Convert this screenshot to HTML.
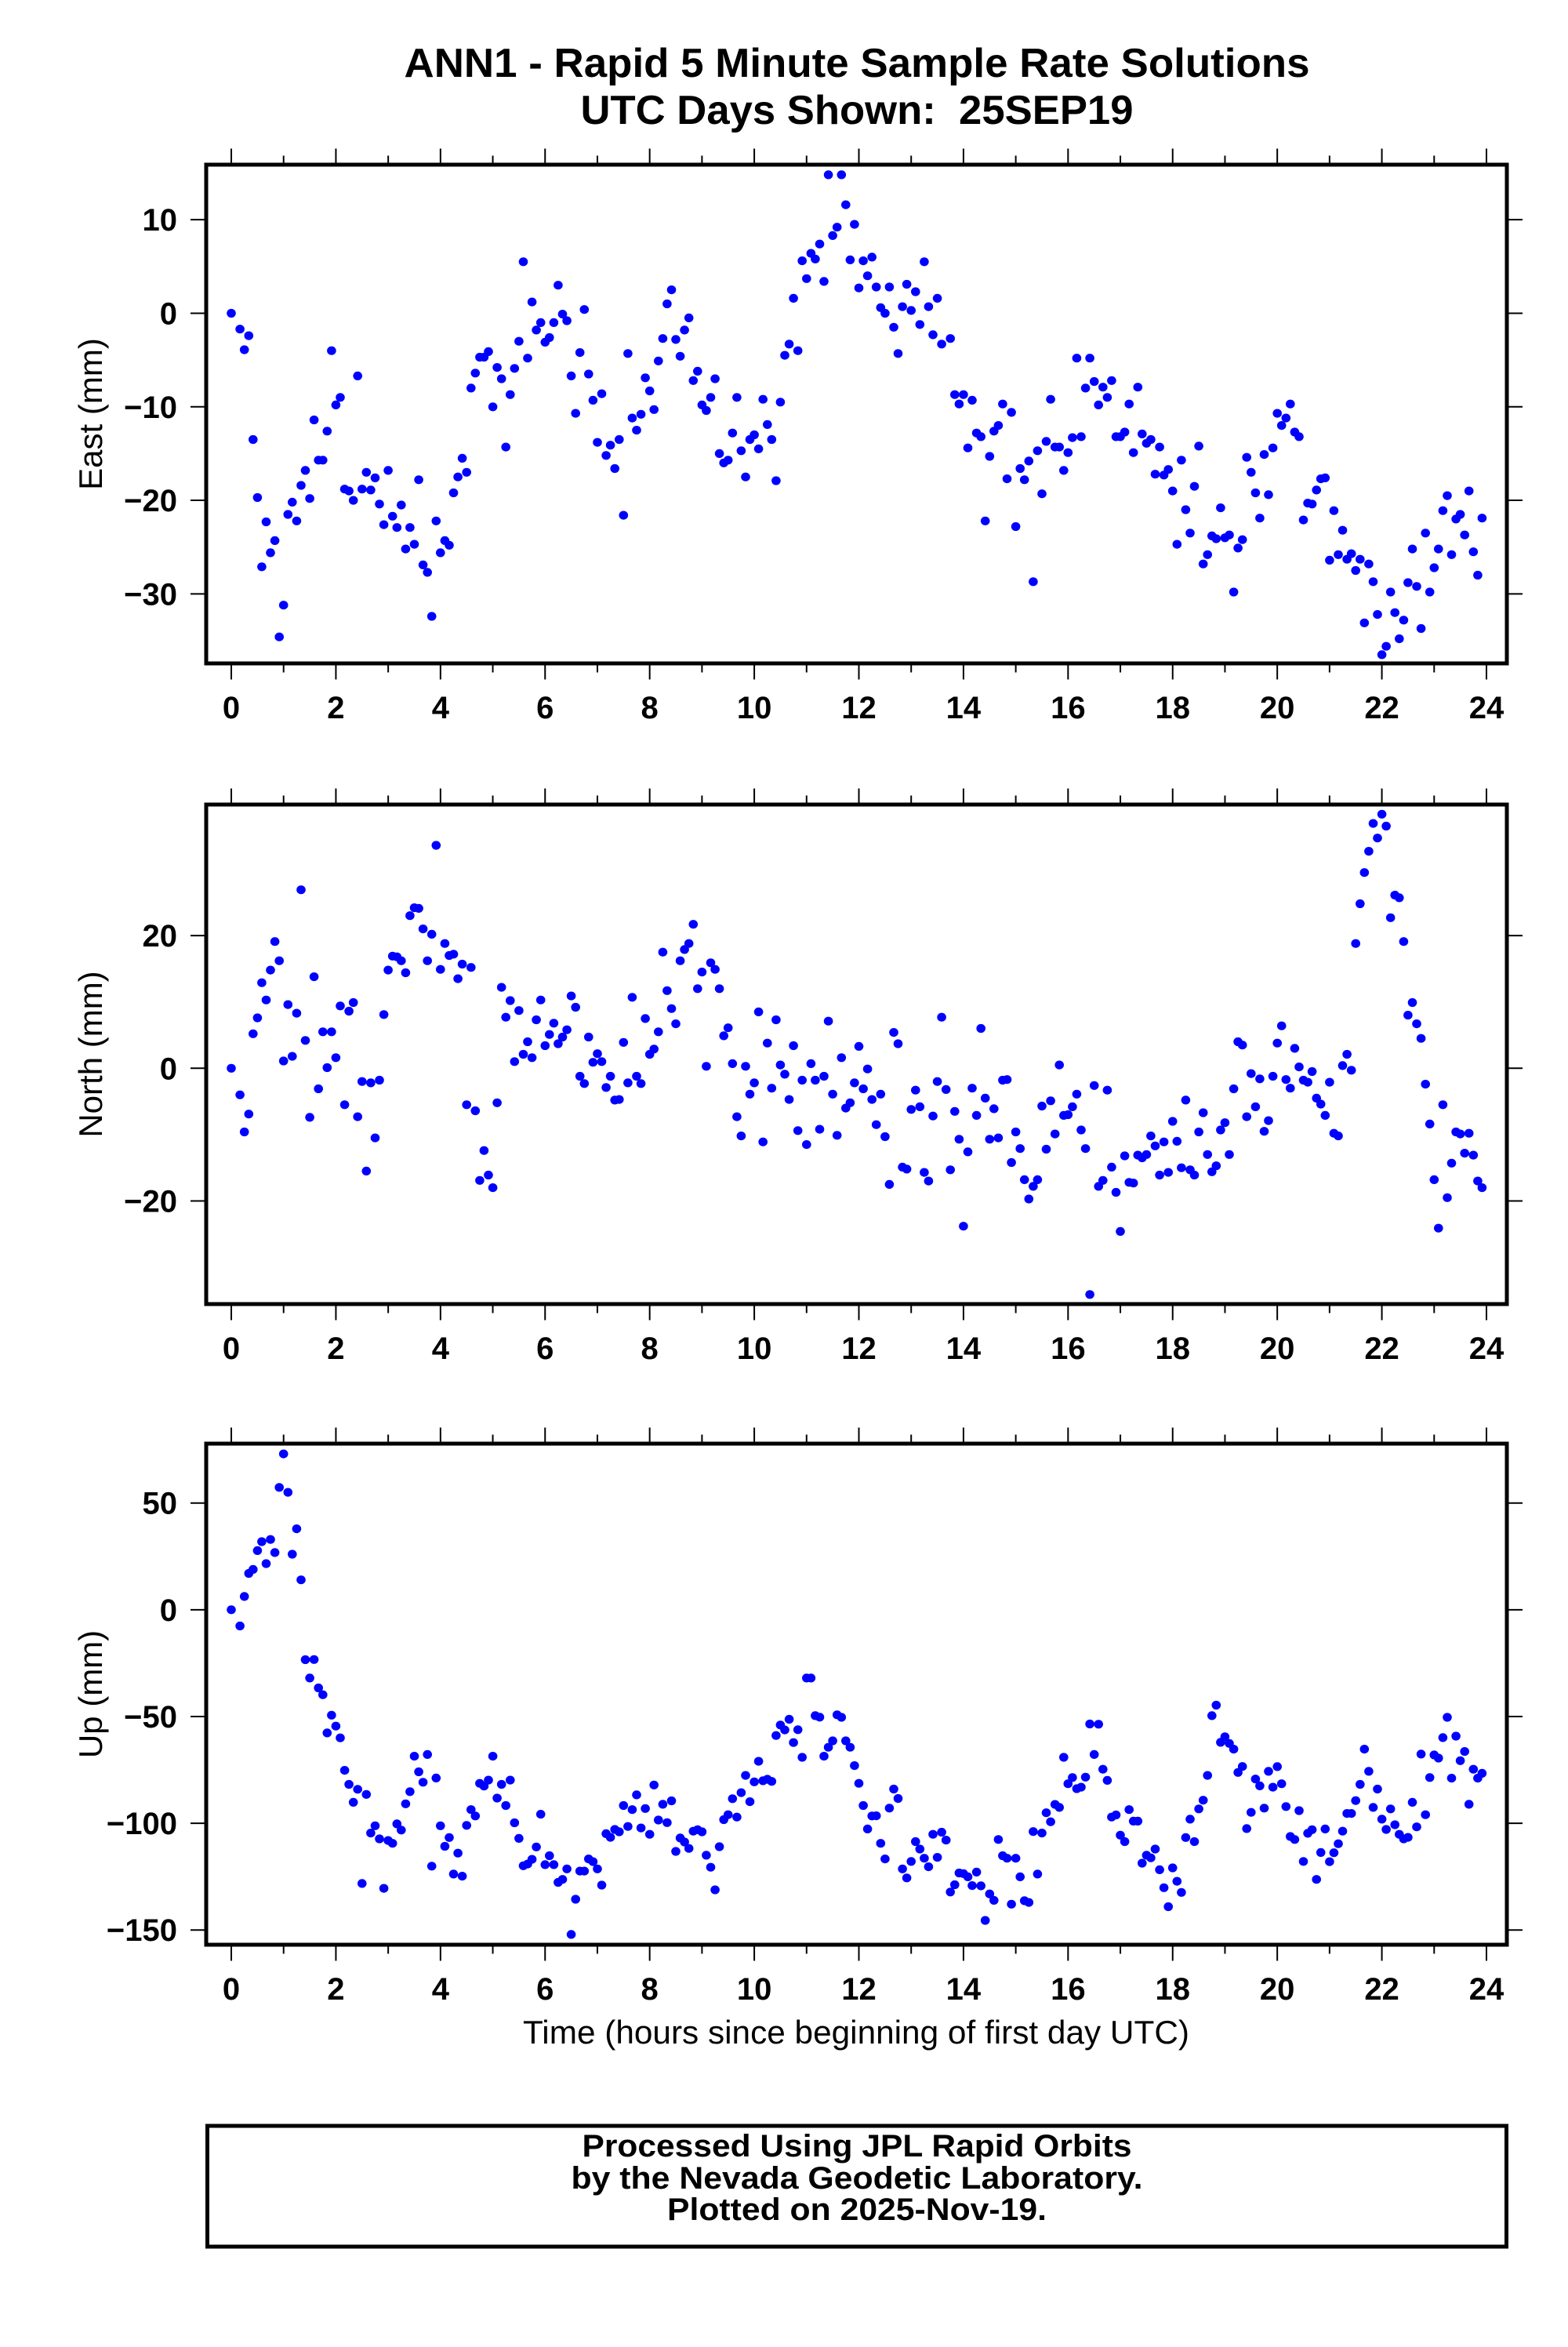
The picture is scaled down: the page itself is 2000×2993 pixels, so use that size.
<!DOCTYPE html>
<html><head><meta charset="utf-8"><style>
html,body{margin:0;padding:0;background:#fff;}
svg{display:block;}
text{font-family:"Liberation Sans",sans-serif;fill:#000;}
</style></head><body>
<svg id="chart" width="2000" height="2993" viewBox="0 0 2000 2993" xmlns="http://www.w3.org/2000/svg">
<rect x="0" y="0" width="2000" height="2993" fill="#fff"/>
<text x="1093" y="98" font-size="52" font-weight="bold" text-anchor="middle" textLength="1155" lengthAdjust="spacingAndGlyphs">ANN1 - Rapid 5 Minute Sample Rate Solutions</text>
<text x="1093" y="158" font-size="52" font-weight="bold" text-anchor="middle" textLength="705" lengthAdjust="spacingAndGlyphs" xml:space="preserve">UTC Days Shown:  25SEP19</text>
<text x="1092" y="2606" font-size="42" text-anchor="middle" textLength="850" lengthAdjust="spacingAndGlyphs">Time (hours since beginning of first day UTC)</text>
<rect x="264.5" y="2711" width="1657" height="154" fill="none" stroke="#000" stroke-width="5"/>
<text x="1093" y="2750" font-size="40" font-weight="bold" text-anchor="middle" textLength="701" lengthAdjust="spacingAndGlyphs">Processed Using JPL Rapid Orbits</text>
<text x="1093" y="2791" font-size="40" font-weight="bold" text-anchor="middle" textLength="729" lengthAdjust="spacingAndGlyphs">by the Nevada Geodetic Laboratory.</text>
<text x="1093" y="2831" font-size="40" font-weight="bold" text-anchor="middle" textLength="484" lengthAdjust="spacingAndGlyphs">Plotted on 2025-Nov-19.</text>
</svg>
<script>
const stepHours = 5/60;
const xTickValues = [0,2,4,6,8,10,12,14,16,18,20,22,24];
const xTickLabels = ["0","2","4","6","8","10","12","14","16","18","20","22","24"];
const eastTicks = [10,0,-10,-20,-30];
const eastTickLabels = ["10","0","\u221210","\u221220","\u221230"];
const northTicks = [20,0,-20];
const northTickLabels = ["20","0","\u221220"];
const upTicks = [50,0,-50,-100,-150];
const upTickLabels = ["50","0","\u221250","\u2212100","\u2212150"];

const eastValues = [0,null,-1.7,-3.9,-2.4,-13.5,-19.7,-27.1,-22.3,-25.6,-24.3,-34.6,-31.2,-21.5,-20.2,-22.2,-18.4,-16.8,-19.8,-11.4,-15.7,-15.7,-12.6,-4.0,-9.8,-9.0,-18.8,-19.0,-20.0,-6.7,-18.8,-17.0,-18.9,-17.6,-20.4,-22.6,-16.8,-21.7,-22.9,-20.5,-25.2,-22.9,-24.7,-17.8,-26.9,-27.7,-32.4,-22.2,-25.6,-24.3,-24.8,-19.2,-17.5,-15.5,-17.0,-8.0,-6.4,-4.7,-4.7,-4.1,-10.0,-5.8,-7.0,-14.3,-8.7,-5.9,-3.0,5.5,-4.8,1.2,-1.8,-1.0,-3.1,-2.6,-1.0,3.0,-0.1,-0.8,-6.7,-10.7,-4.2,0.4,-6.5,-9.3,-13.8,-8.6,-15.2,-14.1,-16.6,-13.5,-21.6,-4.3,-11.2,-12.5,-10.8,-6.9,-8.3,-10.3,-5.1,-2.7,1.0,2.5,-2.8,-4.6,-1.8,-0.5,-7.2,-6.2,-9.8,-10.4,-9.0,-7.0,-15.0,-16.0,-15.7,-12.8,-9.0,-14.7,-17.5,-13.5,-13.0,-14.5,-9.2,-11.9,-13.5,-17.9,-9.5,-4.5,
-3.3,1.6,-4.0,5.6,3.7,6.4,5.8,7.4,3.4,14.8,8.3,9.2,14.8,11.6,5.7,9.5,2.7,5.6,4.0,6.0,2.8,0.6,0,2.8,-1.5,-4.3,0.7,3.1,0.3,2.3,-1.2,5.5,0.7,-2.3,1.6,-3.3,null,-2.7,-8.7,-9.7,-8.7,-14.4,-9.3,-12.8,-13.2,-22.2,-15.3,-12.6,-12.0,-9.7,-17.7,-10.6,-22.8,-16.6,-17.8,-15.8,-28.7,-14.7,-19.3,-13.7,-9.2,-14.3,-14.3,-16.8,-14.9,-13.3,-4.8,-13.2,-8.0,-4.8,-7.3,-9.8,-7.9,-9.0,-7.2,-13.2,-13.2,-12.7,-9.7,-14.9,-7.9,-12.9,-13.9,-13.5,-17.2,-14.3,-17.3,-16.7,-19.0,-24.7,-15.7,-21.0,-23.5,-18.5,-14.2,-26.8,-25.8,-23.8,-24.1,-20.8,-24.0,-23.7,-29.8,-25.1,-24.2,-15.4,-17.0,-19.2,-21.9,-15.1,-19.4,-14.4,-10.7,-12.0,-11.2,-9.7,-12.7,-13.2,-22.1,-20.3,-20.4,-18.9,-17.7,-17.6,-26.4,-21.1,-25.8,-23.2,-26.3,-25.7,-27.5,-26.3,-33.1,-26.8,-28.7,-32.2,-36.5,-35.6,-29.8,-32.0,-34.8,-32.8,-28.8,-25.2,-29.2,-33.7,-23.5,-29.8,-27.2,-25.2,-21.1,-19.5,-25.8,-22.0,-21.5,-23.7,-19.0,-25.5,-28.0,-21.9];

const northValues = [0,null,-4.0,-9.6,-6.9,5.2,7.6,12.9,10.3,14.8,19.1,16.2,1.1,9.6,1.8,8.3,26.9,4.2,-7.4,13.8,-3.1,5.5,0.1,5.5,1.6,9.4,-5.5,8.6,9.9,-7.3,-2.0,-15.5,-2.2,-10.5,-1.8,8.1,14.8,16.9,16.8,16.2,14.4,23.0,24.2,24.1,21.0,16.2,20.2,33.6,14.9,18.8,17.0,17.2,13.5,15.7,-5.5,15.2,-6.4,-16.9,-12.4,-16.1,-18.0,-5.2,12.2,7.7,10.2,1.0,8.7,2.1,4.0,1.6,7.3,10.3,3.4,5.1,6.8,3.7,4.7,5.8,10.9,9.2,-1.2,-2.3,4.7,0.9,2.2,1.0,-2.9,-1.2,-4.8,-4.7,3.9,-2.2,10.7,-1.2,-2.3,7.5,2.1,2.9,5.5,17.5,11.7,9.0,6.7,16.2,17.9,18.8,21.7,12.0,14.5,0.3,15.9,14.9,12.0,4.9,6.1,0.7,-7.3,-10.2,0.3,-3.9,-2.2,8.5,-11.1,3.8,-3.0,7.3,0.5,-0.9,
-4.7,3.4,-9.4,-1.8,-11.5,0.7,-1.8,-9.2,-1.2,7.1,-3.9,-10.1,1.6,-6.0,-5.2,-2.2,3.3,-3.1,-0.1,-4.7,-8.5,-3.9,-10.3,-17.5,5.4,3.7,-14.9,-15.2,-6.2,-3.3,-5.8,-15.7,-17.0,-7.2,-2.0,7.7,-3.2,-15.3,-6.5,-10.7,-23.8,-12.6,-3.0,-7.1,6.0,-4.5,-10.7,-6.1,-10.5,-1.8,-1.7,-14.2,-9.6,-12.1,-16.8,-19.7,-17.8,-16.8,-5.7,-12.2,-4.9,-9.9,0.5,-7.1,-7.0,-5.8,-3.9,-9.3,-12.1,-34.1,-2.6,-17.8,-16.9,-3.3,-14.9,-18.7,-24.6,-13.2,-17.2,-17.3,-13.1,-13.5,-13.0,-10.2,-11.7,-16.1,-11.1,-15.7,-8.0,-11.0,-15.0,-4.8,-15.3,-16.1,-9.6,-6.7,-13.0,-15.6,-14.7,-9.3,-8.2,-13.0,-3.1,4.0,3.5,-7.3,-0.8,-5.8,-1.6,-9.5,-7.9,-1.2,3.8,6.4,-1.7,-3.0,3.0,0.2,-1.8,-2.1,-0.5,-4.5,-5.4,-7.1,-2.1,-9.8,-10.2,0.4,2.1,-0.3,18.8,24.8,29.5,32.7,36.9,34.7,38.3,36.5,22.7,26.1,25.7,19.1,8.0,9.9,6.7,4.5,-2.4,-8.4,-16.8,-24.1,-5.5,-19.5,-14.3,-9.6,-9.9,-12.8,-9.8,-13.1,-17.0,-18.0];

const upValues = [0,null,-7.6,6.2,17.0,18.9,27.7,31.9,21.6,32.9,26.8,57.3,73.0,55.0,26.0,37.9,14.0,-23.4,-32.0,-23.3,-36.6,-39.8,-57.7,-49.4,-54.5,-60.0,-75.2,-81.8,-90.2,-84.1,-128.2,-86.5,-104.6,-101.2,-107.3,-130.5,-108.1,-109.4,-100.3,-103.2,-90.9,-85.2,-68.6,-75.9,-80.8,-67.8,-120.1,-78.8,-101.2,-110.8,-106.7,-123.8,-114.0,-124.8,-101.0,-93.6,-96.6,-81.3,-82.6,-79.8,-68.6,-88.2,-81.8,-91.7,-79.8,-99.8,-107.1,-119.9,-119.1,-116.9,-111.1,-95.8,-119.4,-115.2,-119.4,-127.7,-126.3,-121.4,-152.1,-135.6,-122.4,-122.4,-116.7,-118.0,-121.4,-129.0,-104.9,-106.6,-102.9,-104.0,-91.7,-101.5,-93.6,-86.7,-102.2,-93.1,-105.2,-82.1,-98.5,-91.1,-99.7,-89.5,-113.2,-106.9,-108.8,-111.8,-103.7,-103.0,-104.0,-115.0,-120.6,-131.2,-111.0,-98.3,-96.0,-88.5,-97.1,-85.7,-77.6,-89.9,-80.6,-71.0,-80.1,-79.4,-80.4,-58.9,-54.0,
-56.3,-51.3,-62.2,-56.2,-69.1,-32.0,-32.0,-49.6,-50.3,-68.6,-64.4,-61.4,-49.2,-50.4,-61.4,-64.4,-73.0,-81.3,-91.7,-102.7,-96.6,-96.5,-109.4,-116.7,-92.9,-84.0,-88.4,-121.4,-125.6,-117.9,-108.6,-112.1,-116.4,-120.4,-105.2,-116.0,-104.2,-107.9,-132.2,-128.8,-123.3,-123.6,-125.1,-129.2,-122.9,-129.3,-145.5,-133.1,-136.1,-107.6,-115.2,-116.4,-137.9,-116.4,-125.1,-136.3,-137.1,-103.9,-123.8,-104.6,-95.1,-99.3,-91.2,-92.6,-69.1,-81.5,-78.6,-83.8,-83.1,-78.4,-53.5,-67.8,-53.6,-74.7,-79.9,-97.1,-96.1,-105.6,-108.6,-93.6,-99.0,-99.0,-118.7,-115.0,-116.2,-112.1,-121.8,-130.2,-139.1,-120.9,-127.2,-132.4,-106.7,-98.1,-108.6,-93.3,-89.2,-77.6,-49.6,-44.7,-62.1,-59.5,-62.6,-65.3,-76.2,-73.4,-102.5,-94.9,-79.3,-82.5,-92.9,-75.7,-83.1,-73.5,-81.5,-92.2,-106.2,-107.6,-94.1,-117.9,-104.7,-103.0,-126.3,-113.7,-102.7,-118.0,-113.8,-109.6,-103.7,-95.4,-95.4,-89.4,-81.8,-65.3,-75.7,-92.6,-84.0,-98.1,-102.9,-93.3,-100.7,-105.2,-107.3,-106.6,-90.2,-101.7,-67.6,-96.0,-78.6,-68.0,-69.5,-59.9,-50.4,-78.9,-59.2,-70.7,-66.4,-91.1,-74.7,-78.9,-76.6];

const NS = "http://www.w3.org/2000/svg";
const svg = document.getElementById('chart');
function mk(tag, attrs, parent){
  const e = document.createElementNS(NS, tag);
  for (const k in attrs) e.setAttribute(k, attrs[k]);
  (parent||svg).appendChild(e);
  return e;
}
const L = 263, R = 1922;
const xMin = -0.48, xMax = 24.39;
function xScale(h){ return L + (h - xMin) / (xMax - xMin) * (R - L); }

function panel(key, top, bottom, yMin, yMax, values, ticks, tickLabels, title){
  const g = mk('g', {});
  
  
  const yScale = v => bottom - (v - yMin) / (yMax - yMin) * (bottom - top);
  // points
  const pg = mk('g', {fill:'#0000ff'}, g);
  
  
  values.forEach((v, i) => {
    if (v === null) return;
    const c = mk('ellipse', {cx: xScale(i*stepHours).toFixed(1), cy: yScale(v).toFixed(1), rx: 5.8, ry: 5.6}, pg);
    
    
  });
  // frame
  const fr = mk('rect', {x:L, y:top, width:R-L, height:bottom-top, fill:'none', stroke:'#000', 'stroke-width':5}, g);
  
  
  // x ticks
  for (let h = 0; h <= 24; h++){
    const x = xScale(h);
    const len = (h % 2 === 0) ? 18 : 9;
    mk('line', {x1:x, x2:x, y1:top-2.5, y2:top-2.5-len, stroke:'#000', 'stroke-width':2}, g);
    mk('line', {x1:x, x2:x, y1:bottom+2.5, y2:bottom+2.5+len, stroke:'#000', 'stroke-width':2}, g);
  }
  xTickValues.forEach((h, i) => {
    const t = mk('text', {x: xScale(h), y: bottom + 70, 'font-size': 40, 'font-weight':'bold', 'text-anchor':'middle'}, g);
    
    
    t.textContent = xTickLabels[i];
  });
  // y ticks
  ticks.forEach((v, i) => {
    const y = yScale(v);
    mk('line', {x1:L-2.5, x2:L-20, y1:y, y2:y, stroke:'#000', 'stroke-width':2}, g);
    mk('line', {x1:R+2.5, x2:R+20, y1:y, y2:y, stroke:'#000', 'stroke-width':2}, g);
    const t = mk('text', {x: 226, y: y + 14, 'font-size': 40, 'font-weight':'bold', 'text-anchor':'end'}, g);
    
    
    t.textContent = tickLabels[i];
  });
  const cy = (top + bottom) / 2;
  const yt = mk('text', {x: 0, y: 0, 'font-size': 42, 'text-anchor':'middle', transform: 'translate(130,' + cy + ') rotate(-90)'}, g);
  
  
  yt.textContent = title;
}

panel('east', 210, 846, -37.43, 15.88, eastValues, eastTicks, eastTickLabels, 'East (mm)');
panel('north', 1026, 1663, -35.54, 39.75, northValues, northTicks, northTickLabels, 'North (mm)');
panel('up', 1841, 2480, -156.9, 77.8, upValues, upTicks, upTickLabels, 'Up (mm)');
</script>
</body></html>
